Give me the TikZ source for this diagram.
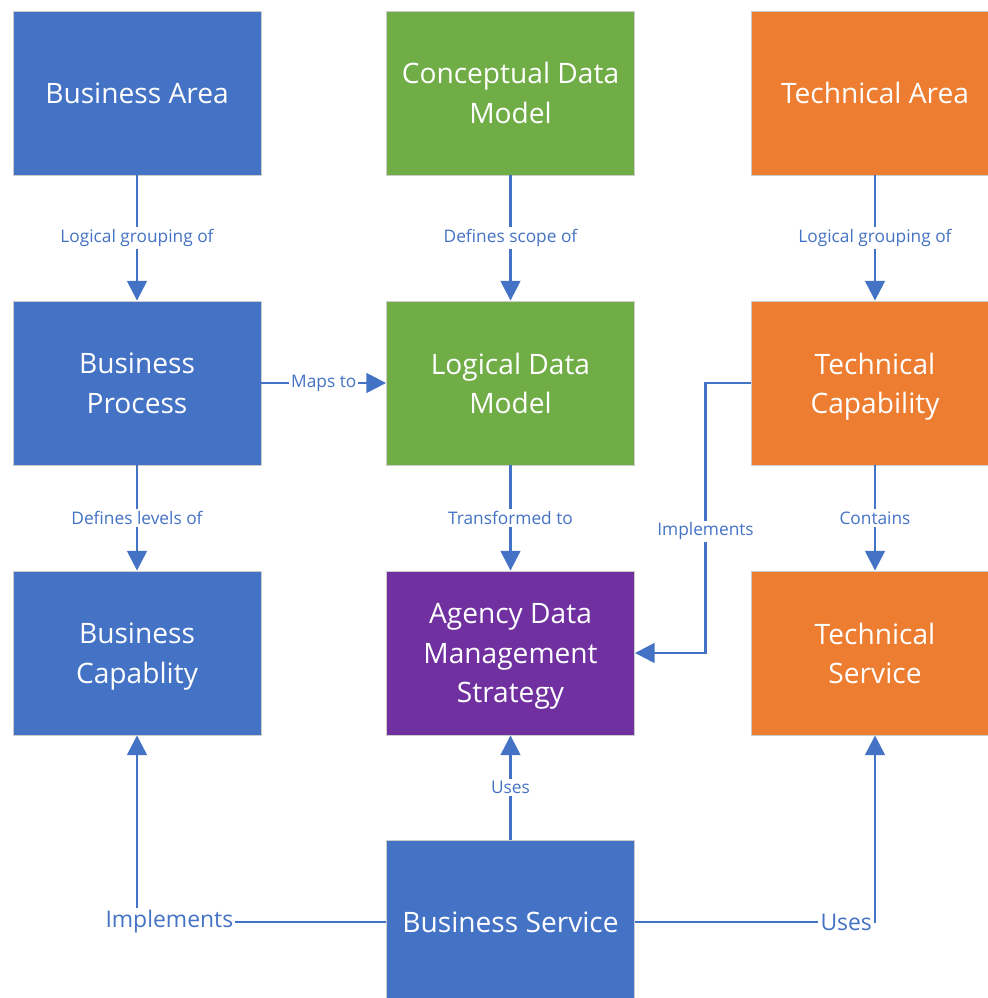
\documentclass[tikz,border=0pt]{standalone}
\usepackage{fontspec}
\setmainfont{Open Sans}
\usetikzlibrary{arrows.meta,positioning}
\definecolor{bizblue}{HTML}{4472C4}
\definecolor{datagreen}{HTML}{70AD47}
\definecolor{techorange}{HTML}{ED7D31}
\definecolor{stratpurple}{HTML}{7030A0}
\newcommand{\boxfont}{\fontsize{20}{28}\selectfont}
\newcommand{\lblfont}{\fontsize{12.3}{14}\selectfont}
\newcommand{\biglblfont}{\fontsize{16.3}{18}\selectfont}

\begin{document}
\begin{tikzpicture}[x=0.025cm,y=-0.025cm,
	box/.style={draw=black!20,line width=0.6pt,minimum width=6.2cm,minimum height=4.1cm,
		align=center,text=white,font=\boxfont,inner sep=0pt,text depth=0pt},
	link/.style={draw=bizblue,line width=1.8pt,-{Triangle[length=14pt,width=14pt]}},
	lbl/.style={fill=white,text=bizblue,font=\lblfont,inner sep=1.5pt},
	biglbl/.style={lbl,font=\biglblfont}]
	
	\useasboundingbox (0,0) rectangle (987,998);

	% top row
	\node[box,fill=bizblue] (ba) at (137,93) {Business Area};
	\node[box,fill=datagreen] (cdm) at (510.5,93) {Conceptual Data\\Model};
	\node[box,fill=techorange] (ta) at (875,93) {Technical Area};

	% middle row
	\node[box,fill=bizblue] (bp) at (137,383) {Business\\Process};
	\node[box,fill=datagreen] (ldm) at (510.5,383) {Logical Data\\Model};
	\node[box,fill=techorange] (tc) at (875,383) {Technical\\Capability};

	% bottom row
	\node[box,fill=bizblue] (bc) at (137,653) {Business\\Capablity};
	\node[box,fill=stratpurple] (adms) at (510.5,653) {Agency Data\\Management\\Strategy};
	\node[box,fill=techorange] (ts) at (875,653) {Technical\\Service};

	\node[box,fill=bizblue] (bs) at (510.5,922) {Business Service};

	\draw[link] (ba) -- node[lbl] {Logical grouping of} (bp);
	\draw[link] (cdm) -- node[lbl] {Defines scope of} (ldm);
	\draw[link] (ta) -- node[lbl] {Logical grouping of} (tc);

	\draw[link] (bp) -- node[lbl] {Maps to} (ldm);

	\draw[link] (bp) -- node[lbl] {Defines levels of} (bc);
	\draw[link] (ldm) -- node[lbl] {Transformed to} (adms);
	\draw[link] (tc) -- node[lbl] {Contains} (ts);

	\draw[link] (tc.west) -- ++(-45,0) |- node[lbl,pos=0.275] {Implements} (adms.east);

	\draw[link] (bs) -- node[lbl] {Uses} (adms);
	\draw[link] (bs.west) -| node[biglbl,pos=0.435] {Implements} (bc.south);
	\draw[link] (bs.east) -| node[biglbl,pos=0.44] {Uses} (ts.south);
	
\end{tikzpicture}
\end{document}
